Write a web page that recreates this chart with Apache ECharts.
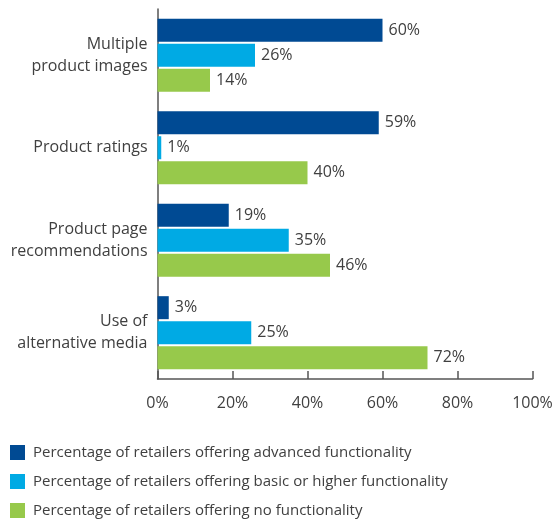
<!DOCTYPE html>
<html>
<head>
<meta charset="utf-8">
<script src="https://cdn.jsdelivr.net/npm/echarts@6/dist/echarts.min.js"></script>
<style>html,body{margin:0;padding:0;background:#fff}#c{width:556px;height:523px}</style>
</head>
<body>
<div id="c"></div>
<script>
var categories = ['Multiple\nproduct images', 'Product ratings', 'Product page\nrecommendations', 'Use of\nalternative media'];
var seriesNames = [
  'Percentage of retailers offering advanced functionality',
  'Percentage of retailers offering basic or higher functionality',
  'Percentage of retailers offering no functionality'
];
var advanced = [60, 59, 19, 3];
var basic = [26, 1, 35, 25];
var noFunc = [14, 40, 46, 72];
var xTicks = [0, 20, 40, 60, 80, 100];
var colors = ['#004a93', '#00aae4', '#97c94b'];
var font = '"Open Sans", "Noto Sans", sans-serif';
var textColor = '#404040';

function mk(name, data, color) {
  return {
    name: name, type: 'bar', data: data, barWidth: 23, barGap: '9%',
    itemStyle: {color: color},
    label: {show: true, position: 'right', distance: 6, formatter: '{c}%',
      color: textColor, fontSize: 16, fontFamily: font},
    animation: false
  };
}

var chart = echarts.init(document.getElementById('c'), null, {renderer: 'canvas'});
chart.setOption({
  animation: false,
  color: colors,
  grid: {left: 157.5, right: 23.5, top: 9, bottom: 144, containLabel: false},
  legend: {
    orient: 'vertical', left: 10, top: 445, padding: 0, itemWidth: 15, itemHeight: 15, itemGap: 14,
    icon: 'rect', selectedMode: false,
    textStyle: {color: textColor, fontSize: 15, lineHeight: 15, fontFamily: font, padding: [0, 0, 0, 3]},
    data: seriesNames
  },
  xAxis: {
    type: 'value', min: xTicks[0], max: xTicks[xTicks.length - 1], interval: 20,
    axisLine: {show: true, lineStyle: {color: '#555', width: 1.5}},
    axisTick: {show: true, inside: true, length: 8, lineStyle: {color: '#555', width: 1.5}},
    splitLine: {show: false},
    axisLabel: {formatter: '{value}%', color: textColor, fontSize: 16, fontFamily: font, margin: 16}
  },
  yAxis: {
    type: 'category', data: categories, inverse: true,
    axisLine: {show: true, lineStyle: {color: '#555', width: 1.5}},
    axisTick: {show: false},
    axisLabel: {color: textColor, fontSize: 16, fontFamily: font, lineHeight: 22, margin: 10, align: 'right'}
  },
  series: [mk(seriesNames[0], advanced, colors[0]), mk(seriesNames[1], basic, colors[1]), mk(seriesNames[2], noFunc, colors[2])]
});
</script>
</body>
</html>
